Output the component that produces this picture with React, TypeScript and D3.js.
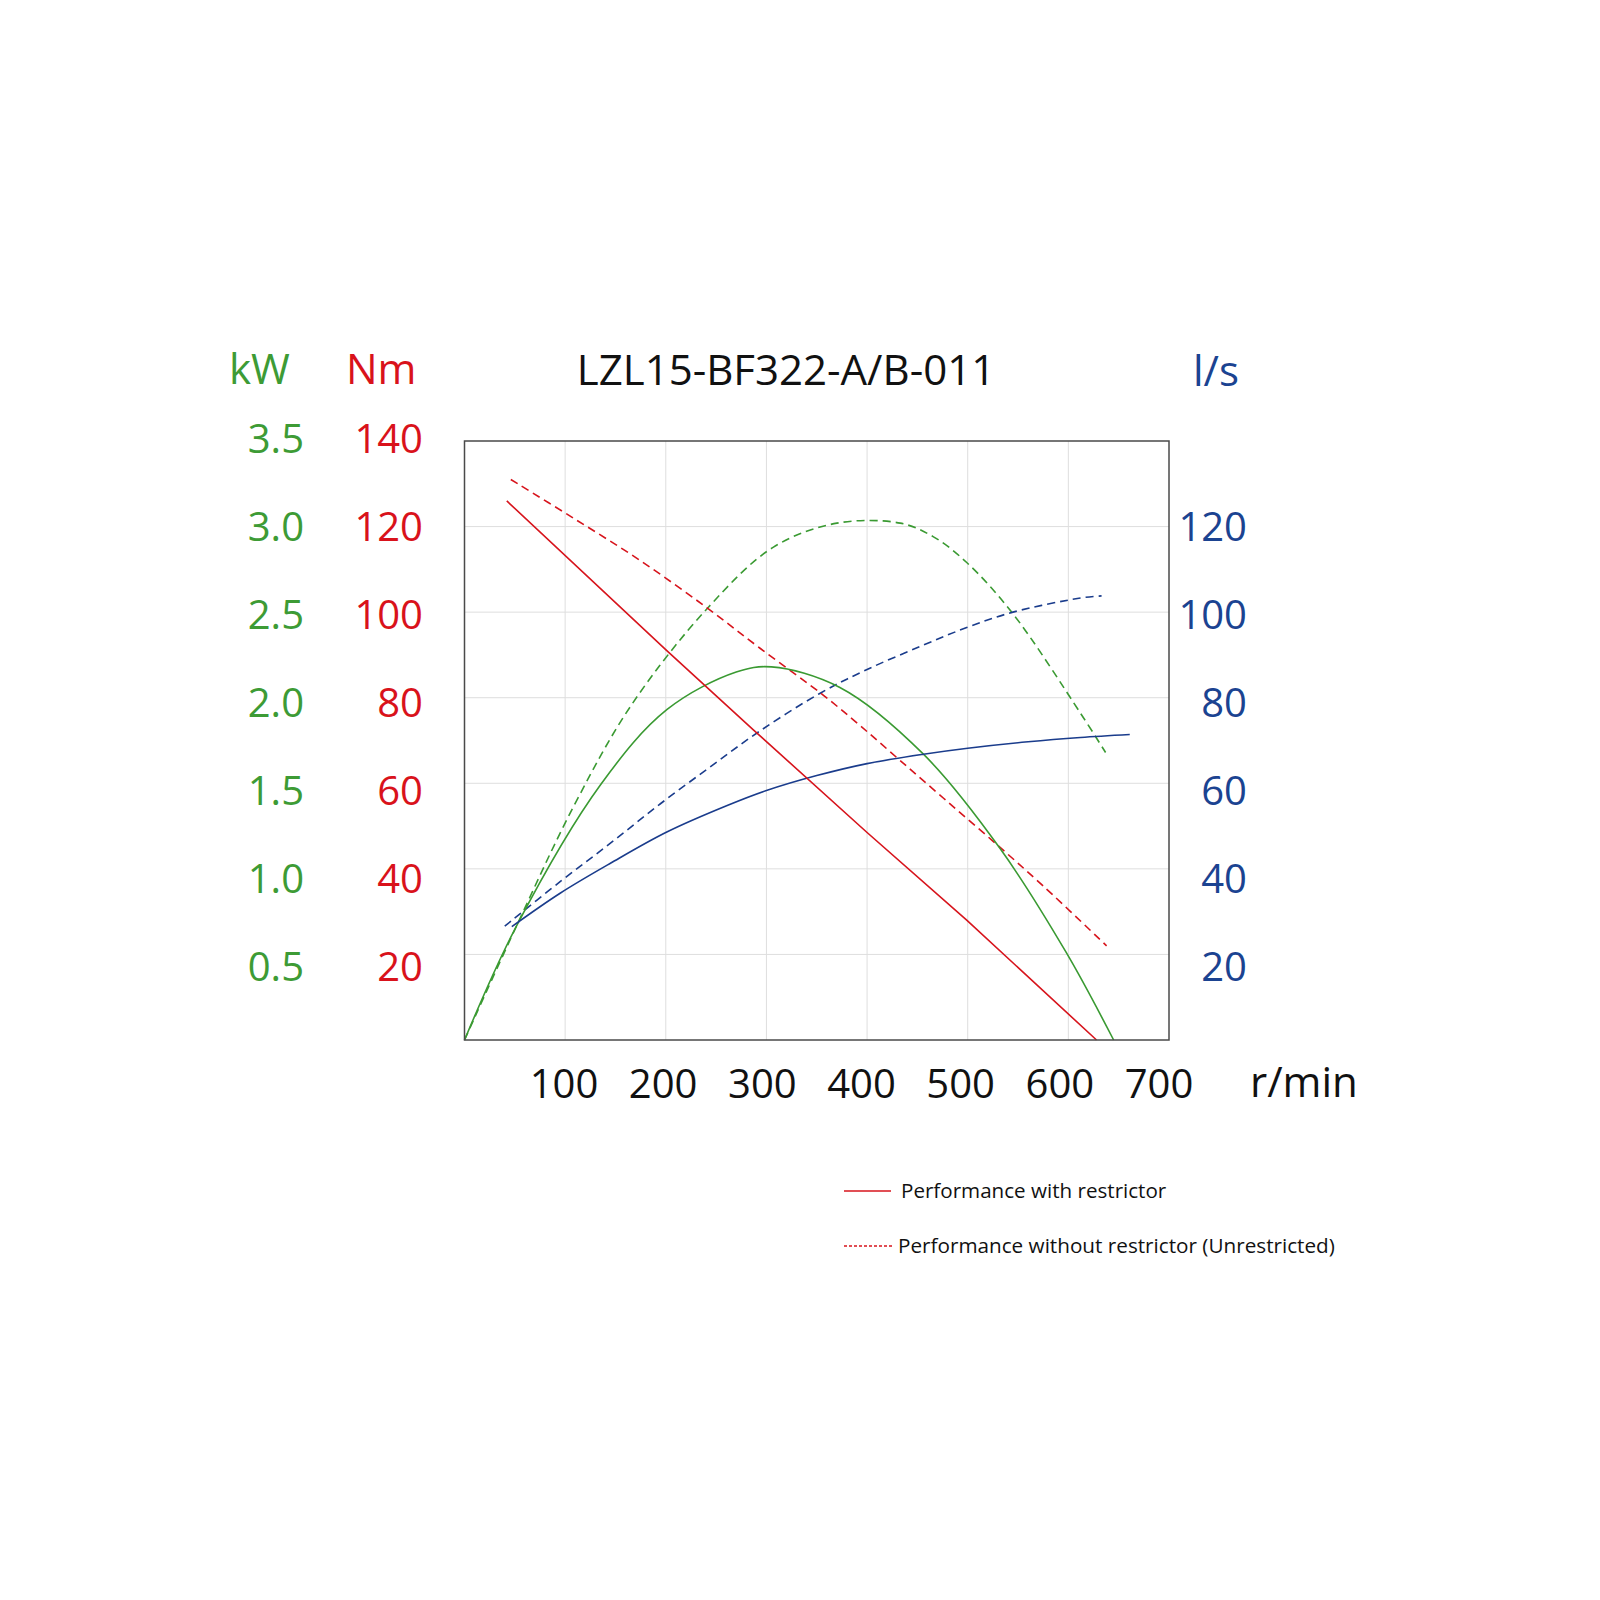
import React from "react";
import * as d3 from "d3";

// speed (r/min) vs values
const torqueRestricted: [number, number][] = [
  [42, 126], [201, 91], [287, 72.5], [400, 48.5], [499, 28], [628, 0],
];
const torqueUnrestricted: [number, number][] = [
  [46, 131], [108, 122], [175, 112], [241, 101], [294, 91.5], [357, 80.5],
  [393, 73.5], [432, 65.5], [476, 56.5], [525, 46.5], [575, 36], [638, 22],
];
// kW
const powerRestricted: [number, number][] = [
  [0, 0], [52, 0.67], [135, 1.49], [201, 1.93], [270, 2.15], [305, 2.18],
  [373, 2.06], [456, 1.67], [532, 1.12], [598, 0.51], [645, 0],
];
const powerUnrestricted: [number, number][] = [
  [0, 0], [52, 0.67], [108, 1.36], [165, 1.95], [241, 2.52], [307, 2.88],
  [370, 3.02], [433, 3.02], [466, 2.94], [499, 2.79], [545, 2.49],
  [612, 1.91], [637, 1.68],
];
// l/s
const flowRestricted: [number, number][] = [
  [47, 26.5], [95, 34.3], [145, 41.3], [201, 48.6], [261, 54.8],
  [300, 58.3], [350, 61.8], [400, 64.6], [456, 66.8], [500, 68.2],
  [560, 69.7], [612, 70.7], [661, 71.4],
];
const flowUnrestricted: [number, number][] = [
  [40, 26.6], [95, 37], [145, 46], [194, 55.1], [244, 63.8], [294, 72.3],
  [353, 81], [400, 86.6], [453, 92], [499, 96.4], [545, 100],
  [612, 103.3], [633, 103.8],
];

const rpmTicks = [100, 200, 300, 400, 500, 600, 700];
const kwTicks = ["3.5", "3.0", "2.5", "2.0", "1.5", "1.0", "0.5"];
const nmTicks = [140, 120, 100, 80, 60, 40, 20];
const lsTicks = [120, 100, 80, 60, 40, 20];

const title = "LZL15-BF322-A/B-011";
const legendLabels = [
  "Performance with restrictor",
  "Performance without restrictor (Unrestricted)",
];

const GREEN = "#3a9a32";
const RED = "#d7141c";
const BLUE = "#1a3c8c";
const GREEN_TXT = "#3d9b35";
const RED_TXT = "#d9121b";
const BLUE_TXT = "#1b4391";
const FONT = "'Open Sans', 'Noto Sans', sans-serif";

export default function App() {
  const left = 464.5, right = 1169, top = 441, bottom = 1040;

  const x = d3.scaleLinear().domain([0, 700]).range([left, right]);
  const y = d3.scaleLinear().domain([0, 140]).range([bottom, top]); // Nm and l/s
  const yKw = d3.scaleLinear().domain([0, 3.5]).range([bottom, top]);

  // tick labels in the source drift a little from the grid
  const labelY = d3.scaleLinear().domain([140, 20]).range([439, 967]);
  const labelX = d3.scaleLinear().domain([100, 700]).range([564, 1159]);

  const smooth = (ys: d3.ScaleLinear<number, number>) =>
    d3.line<[number, number]>()
      .x(d => x(d[0]))
      .y(d => ys(d[1]))
      .curve(d3.curveCatmullRom.alpha(0.5));
  const straight = d3.line<[number, number]>()
    .x(d => x(d[0]))
    .y(d => y(d[1]));

  const gridY = d3.range(20, 140, 20);
  const gridX = d3.range(100, 700, 100);

  const curves = [
    { d: smooth(yKw)(powerUnrestricted), c: GREEN, dash: "8 5" },
    { d: smooth(y)(flowUnrestricted), c: BLUE, dash: "8 5" },
    { d: smooth(y)(torqueUnrestricted), c: RED, dash: "8 5" },
    { d: smooth(yKw)(powerRestricted), c: GREEN, dash: null },
    { d: smooth(y)(flowRestricted), c: BLUE, dash: null },
    { d: straight(torqueRestricted), c: RED, dash: null },
  ];

  return (
    <svg width={1600} height={1600} style={{ position: "absolute", left: 0, top: 0, background: "#fff" }}
      fontFamily={FONT}>
      <rect x={0} y={0} width={1600} height={1600} fill="#fff" />

      {/* grid */}
      {gridY.map(v => (
        <line key={"gy" + v} x1={left} x2={right} y1={y(v)} y2={y(v)} stroke="#dedede" strokeWidth={1} />
      ))}
      {gridX.map(v => (
        <line key={"gx" + v} x1={x(v)} x2={x(v)} y1={top} y2={bottom} stroke="#dedede" strokeWidth={1} />
      ))}

      {curves.map((c, i) => (
        <path key={i} d={c.d || ""} fill="none" stroke={c.c} strokeWidth={1.6}
          strokeDasharray={c.dash || undefined} />
      ))}

      <rect x={left} y={top} width={right - left} height={bottom - top} fill="none" stroke="#4a4a4a" strokeWidth={1.5} />

      {/* headers */}
      <text x={229} y={384} fontSize={42} fill={GREEN_TXT}>kW</text>
      <text x={346} y={384} fontSize={42} fill={RED_TXT}>Nm</text>
      <text x={786} y={385} fontSize={42} fill="#111" textAnchor="middle">{title}</text>
      <text x={1193} y={386} fontSize={42} fill={BLUE_TXT}>l/s</text>

      {/* left axes */}
      {kwTicks.map((t, i) => (
        <text key={"kw" + t} x={304} y={labelY(nmTicks[i])} dy="0.36em" fontSize={40}
          fill={GREEN_TXT} textAnchor="end">{t}</text>
      ))}
      {nmTicks.map(t => (
        <text key={"nm" + t} x={423} y={labelY(t)} dy="0.36em" fontSize={40}
          fill={RED_TXT} textAnchor="end">{t}</text>
      ))}
      {/* right axis */}
      {lsTicks.map(t => (
        <text key={"ls" + t} x={1247} y={labelY(t)} dy="0.36em" fontSize={40}
          fill={BLUE_TXT} textAnchor="end">{t}</text>
      ))}

      {/* bottom axis */}
      {rpmTicks.map(t => (
        <text key={"r" + t} x={labelX(t)} y={1098} fontSize={40} fill="#111" textAnchor="middle">{t}</text>
      ))}
      <text x={1250} y={1097} fontSize={42} fill="#111">r/min</text>

      {/* legend */}
      <line x1={844} x2={891} y1={1191} y2={1191} stroke={RED} strokeWidth={1.6} />
      <text x={901} y={1198} fontSize={20.6} fill="#111">{legendLabels[0]}</text>
      <line x1={844} x2={892} y1={1246} y2={1246} stroke={RED} strokeWidth={1.4} strokeDasharray="3 2" />
      <text x={898} y={1253} fontSize={20.7} fill="#111">{legendLabels[1]}</text>
    </svg>
  );
}
